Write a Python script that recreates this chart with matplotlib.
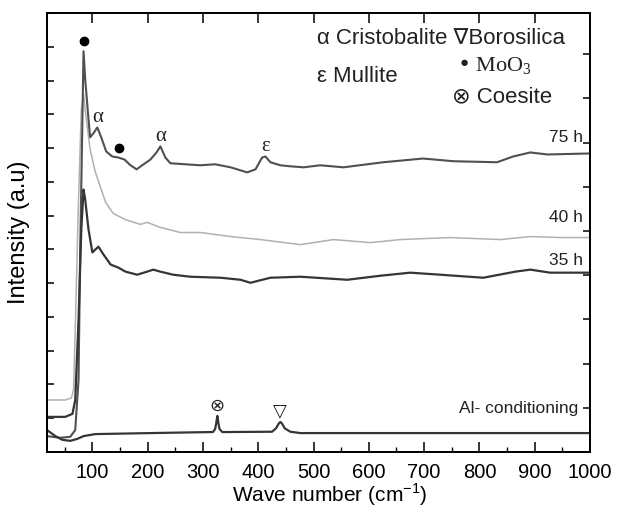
import numpy as np
import matplotlib
matplotlib.use("Agg")
import matplotlib.pyplot as plt
from matplotlib.ticker import MultipleLocator, NullFormatter

plt.rcParams['font.family'] = ['Liberation Sans', 'DejaVu Sans']

# Raman spectra (wave number in cm^-1, intensity in arbitrary units, stacked)
x_75h = [18, 42, 60, 69, 75, 78, 82, 84, 87, 93, 96, 102, 109, 116, 125, 136, 147,
         158, 169, 180, 190, 205, 216, 223, 232, 241, 268, 295, 322, 350, 380, 395,
         407, 413, 422, 440, 458, 482, 512, 554, 626, 698, 753, 832, 861, 892, 923, 1000]
y_75h = [0.47, 0.42, 0.45, 0.65, 2.14, 5.99, 9.85, 11.87, 11.04, 9.85, 9.32, 9.44, 9.61,
         9.32, 8.90, 8.75, 8.72, 8.66, 8.49, 8.37, 8.49, 8.66, 8.87, 9.05, 8.72, 8.55,
         8.52, 8.49, 8.52, 8.43, 8.28, 8.37, 8.72, 8.75, 8.58, 8.49, 8.46, 8.43, 8.49,
         8.43, 8.58, 8.69, 8.61, 8.58, 8.75, 8.87, 8.81, 8.84]

x_40h = [18, 51, 62, 66, 69, 75, 80, 84, 89, 96, 105, 124, 138, 160, 187, 199, 223,
         259, 295, 350, 404, 476, 536, 603, 657, 747, 838, 892, 946, 1000]
y_40h = [1.54, 1.54, 1.60, 1.84, 3.62, 7.48, 10.15, 10.59, 9.85, 8.96, 8.31, 7.39,
         7.06, 6.88, 6.74, 6.80, 6.65, 6.50, 6.50, 6.38, 6.29, 6.14, 6.29, 6.20, 6.29,
         6.35, 6.29, 6.38, 6.35, 6.35]

x_35h = [18, 51, 64, 69, 75, 80, 84, 87, 93, 100, 105, 111, 120, 133, 147, 160, 181,
         199, 210, 223, 246, 277, 332, 368, 386, 400, 422, 476, 561, 621, 675, 729,
         807, 865, 892, 928, 1000]
y_35h = [1.04, 1.04, 1.13, 1.54, 3.92, 6.59, 7.77, 7.48, 6.59, 5.91, 5.99, 6.08, 5.85,
         5.55, 5.46, 5.34, 5.25, 5.34, 5.40, 5.34, 5.25, 5.19, 5.16, 5.10, 5.01, 5.07,
         5.16, 5.19, 5.10, 5.22, 5.31, 5.25, 5.16, 5.34, 5.40, 5.31, 5.31]

x_al = [18, 33, 46, 60, 73, 84, 105, 205, 313, 318, 322, 324, 326, 328, 330, 335,
        425, 432, 437, 440, 443, 448, 458, 476, 1000]
y_al = [0.65, 0.47, 0.36, 0.33, 0.39, 0.47, 0.53, 0.56, 0.59, 0.59, 0.68, 0.85, 1.07,
        0.85, 0.68, 0.59, 0.60, 0.70, 0.84, 0.89, 0.84, 0.70, 0.60, 0.56, 0.56]

# Phase assignments of the labelled peaks
peaks_75h_pos = [84, 109, 149, 223, 413]
peaks_75h_sym = ['dot', 'α', 'dot', 'α', 'ε']
peaks_al_pos = [326, 440]
peaks_al_sym = ['⊗', '▽']

series_labels = ['75 h', '40 h', '35 h', 'Al- conditioning']

fig = plt.figure(figsize=(6.18, 5.09), dpi=100)
ax = fig.add_axes([0.0761, 0.112, 0.8786, 0.8625])

ax.plot(x_75h, y_75h, color='#505050', lw=1.5, zorder=4)
ax.plot(x_40h, y_40h, color='#b0b0b0', lw=1.1, zorder=3)
ax.plot(x_35h, y_35h, color='#353535', lw=1.6, zorder=4)
ax.plot(x_al, y_al, color='#353535', lw=1.6, zorder=4)

ax.set_xlim(18, 1000)
ax.set_ylim(0, 13)

# peak markers on the 75 h spectrum
for px, sym in zip(peaks_75h_pos, peaks_75h_sym):
    py = np.interp(px, x_75h, y_75h)
    if sym == 'dot':
        ax.plot([px], [py + 0.3], 'o', color='black', ms=6, zorder=5)
    else:
        ax.text(px, py + 0.02, sym, ha='center', va='bottom', fontsize=15,
                family=['Liberation Serif', 'DejaVu Serif'], color='#222222')

# peak markers on the Al-conditioning spectrum
for px, sym in zip(peaks_al_pos, peaks_al_sym):
    py = np.interp(px, x_al, y_al)
    ax.text(px, py + 0.04, sym, ha='center', va='bottom', fontsize=13,
            family=['DejaVu Sans'], color='#222222')

# series labels at the right edge
label_y = [9.32, 6.94, 5.67, 1.28]
label_x = [988, 988, 988, 979]
for lx, ly, txt in zip(label_x, label_y, series_labels):
    ax.text(lx, ly, txt, ha='right', va='center', fontsize=12.5, color='#222222')

# phase key
ax.text(507, 12.23, 'α Cristobalite ∇Borosilica', ha='left', va='center',
        fontsize=16, family=['Liberation Sans', 'DejaVu Sans'], color='#222222')
ax.text(507, 11.13, 'ε Mullite', ha='left', va='center',
        fontsize=16, family=['Liberation Sans', 'DejaVu Sans'], color='#222222')
ax.text(760, 11.42, '• MoO$_\\mathregular{3}$', ha='left', va='center',
        fontsize=16, family=['Liberation Serif', 'DejaVu Serif'], color='#222222')
ax.text(751, 10.53, '⊗ Coesite', ha='left', va='center',
        fontsize=16, family=['Liberation Sans', 'DejaVu Sans'], color='#222222')

# axes styling
for s in ax.spines.values():
    s.set_linewidth(1.3)
ax.xaxis.set_major_locator(MultipleLocator(100))
ax.xaxis.set_minor_locator(MultipleLocator(50))
ax.yaxis.set_major_locator(MultipleLocator(1))
ax.yaxis.set_major_formatter(NullFormatter())
ax.set_xticks(np.arange(100, 1001, 100))
ax.tick_params(axis='x', which='major', direction='in', length=7, width=1.1,
               top=True, labelsize=14.5, pad=8)
ax.tick_params(axis='x', which='minor', direction='in', length=3.5, width=1.0,
               top=False)
ax.tick_params(axis='y', which='major', direction='in', length=5, width=1.1,
               right=False, left=True)
ax.set_xlabel('Wave number (cm$^{\\mathregular{-1}}$)', fontsize=15)
ax.xaxis.set_label_coords(0.521, -0.068)
ax.set_ylabel('Intensity (a.u)', fontsize=17)
ax.yaxis.set_label_coords(-0.032, 0.5)

ax2 = ax.twinx()
ax2.set_ylim(0, 9.93)
ax2.yaxis.set_major_locator(MultipleLocator(1))
ax2.yaxis.set_major_formatter(NullFormatter())
ax2.tick_params(axis='y', direction='in', length=5, width=1.1)
for s in ax2.spines.values():
    s.set_linewidth(1.3)

fig.savefig('out.png', dpi=100)
